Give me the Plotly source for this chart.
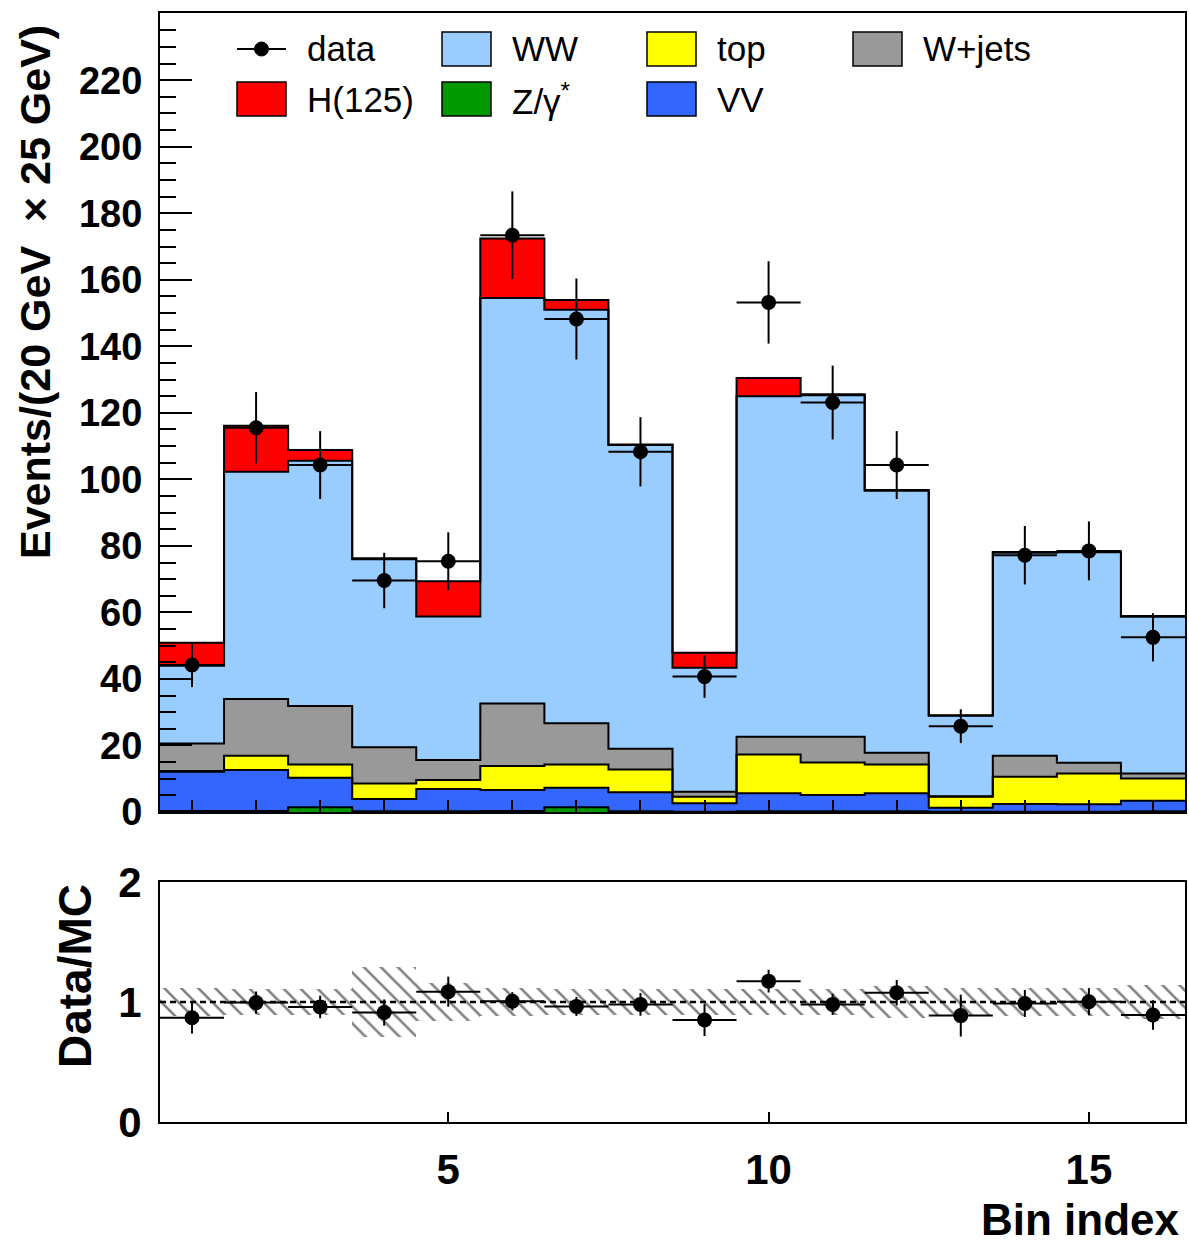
import numpy as np
import plotly.graph_objects as go

# ---------------- data ----------------
bins = list(range(1, 17))
zgamma = [0.3, 0.3, 1.4, 0.2, 0.2, 0.3, 1.4, 0.2, 0.1, 0.2, 0.2, 0.2, 0.1, 0.1, 0.1, 0.2]
vv = [11.8, 12.3, 8.9, 3.7, 6.7, 6.3, 5.9, 5.7, 2.5, 5.4, 4.9, 5.4, 1.2, 2.3, 2.2, 3.2]
top = [0.2, 4.3, 4.0, 4.7, 2.7, 7.2, 7.0, 6.9, 2.0, 11.7, 9.8, 8.7, 3.3, 8.2, 9.3, 6.7]
wjets = [8.3, 17.1, 17.6, 10.9, 6.0, 18.8, 12.4, 6.2, 1.5, 5.3, 7.7, 3.5, 0.1, 6.3, 3.2, 1.5]
ww = [23.4, 68.3, 73.7, 56.5, 43.2, 121.9, 124.3, 91.3, 37.3, 102.4, 102.7, 78.8, 24.2, 61.0, 63.3, 47.1]
higgs = [6.9, 13.8, 3.2, 0.3, 10.6, 17.9, 2.9, 0.2, 4.5, 5.5, 0.3, 0.2, 0.2, 0.3, 0.2, 0.2]
data = [44.2, 115.5, 104.3, 69.6, 75.4, 173.4, 148.2, 108.3, 40.7, 153.2, 123.1, 104.3, 25.8, 77.2, 78.5, 52.5]
mc_unc = [0.12, 0.11, 0.11, 0.29, 0.16, 0.12, 0.11, 0.11, 0.11, 0.11, 0.11, 0.13, 0.12, 0.12, 0.12, 0.14]

stack_names = ["Z/γ<sup>*</sup>", "VV", "top", "W+jets", "WW", "H(125)"]
stack_vals = [zgamma, vv, top, wjets, ww, higgs]
stack_colors = ["#009900", "#3366FF", "#FFFF00", "#999999", "#99CCFF", "#FF0000"]

y_ticks_main = list(range(0, 221, 20))
x_ticks_ratio = [5, 10, 15]
y_ticks_ratio = [0, 1, 2]

# ---------------- figure ----------------
W, H = 1189, 1243
ML, MR, MT, MB = 160, 4, 13, 121
plot_h = H - MT - MB
main_dom = [(H - MB - 812) / plot_h, 1.0]
ratio_dom = [0.0, (H - MB - 882) / plot_h]

fig = go.Figure()

x = np.array(bins, dtype=float)
edges = np.concatenate([x - 0.5, [x[-1] + 0.5]])

cum = np.zeros(len(bins))
cums = []
for name, vals, col in zip(stack_names, stack_vals, stack_colors):
    vals = np.array(vals)
    fig.add_trace(go.Bar(x=x, y=vals, base=cum.copy(), width=1.0, name=name,
                         marker=dict(color=col, line=dict(width=0)),
                         showlegend=False, xaxis="x", yaxis="y"))
    cum = cum + vals
    cums.append(cum.copy())

# step outlines of each stacked component
for c in cums:
    fig.add_trace(go.Scatter(x=edges, y=np.concatenate([c, [c[-1]]]), mode="lines",
                             line=dict(color="black", width=2, shape="hv"),
                             showlegend=False, hoverinfo="skip", xaxis="x", yaxis="y"))

total = cums[-1]
d = np.array(data)
fig.add_trace(go.Scatter(x=x, y=d, mode="markers", name="data",
                         marker=dict(color="black", size=15),
                         error_y=dict(type="data", array=np.sqrt(d), color="black", thickness=2, width=0),
                         error_x=dict(type="constant", value=0.5, color="black", thickness=2, width=0),
                         showlegend=False, xaxis="x", yaxis="y"))

# ratio panel: MC uncertainty band (hatched)
u = np.array(mc_unc)
fig.add_trace(go.Bar(x=x, y=2 * u, base=1 - u, width=1.0,
                     marker=dict(color="rgba(0,0,0,0)", line=dict(width=0),
                                 pattern=dict(shape="\\", fgcolor="black", bgcolor="rgba(0,0,0,0)",
                                              size=12, solidity=0.22, fillmode="overlay")),
                     showlegend=False, xaxis="x2", yaxis="y2"))

ratio = d / total
ratio_err = np.sqrt(d) / total
fig.add_trace(go.Scatter(x=x, y=ratio, mode="markers",
                         marker=dict(color="black", size=15),
                         error_y=dict(type="data", array=ratio_err, color="black", thickness=2, width=0),
                         error_x=dict(type="constant", value=0.5, color="black", thickness=2, width=0),
                         showlegend=False, xaxis="x2", yaxis="y2"))

fig.add_shape(type="line", xref="x2", yref="y2", x0=edges[0], x1=edges[-1], y0=1, y1=1,
              line=dict(color="black", width=2.5, dash="6px,4px"))

# ---------------- axes ----------------
FONT = "Liberation Sans"
axis_common = dict(showline=True, linecolor="black", linewidth=2, mirror=True,
                   showgrid=False, zeroline=False, automargin=False)
fig.update_layout(
    width=W, height=H,
    margin=dict(l=ML, r=MR, t=MT, b=MB),
    paper_bgcolor="white", plot_bgcolor="white",
    barmode="overlay", bargap=0,
    font=dict(family=FONT, color="black"),
    xaxis=dict(domain=[0, 1], anchor="y", range=[edges[0], edges[-1]], ticks="inside",
               tickmode="linear", tick0=1, dtick=1, ticklen=12, tickwidth=2, tickcolor="black",
               showticklabels=False, **axis_common),
    yaxis=dict(domain=main_dom, anchor="x", range=[0, 240.2], ticks="inside",
               tickvals=y_ticks_main, ticklen=32, tickwidth=2, tickcolor="black",
               minor=dict(ticks="inside", tick0=0, dtick=5, ticklen=16, tickwidth=2, tickcolor="black"),
               tickfont=dict(family=FONT, size=38, weight="bold"), ticklabelstandoff=8,
               **axis_common),
    xaxis2=dict(domain=[0, 1], anchor="y2", range=[edges[0], edges[-1]], ticks="inside",
                tickvals=x_ticks_ratio, ticklen=10, tickwidth=2, tickcolor="black",
                tickfont=dict(family=FONT, size=42, weight="bold"), ticklabelstandoff=10,
                **axis_common),
    yaxis2=dict(domain=ratio_dom, anchor="x2", range=[0, 2], tickvals=y_ticks_ratio, ticks="",
                tickfont=dict(family=FONT, size=42, weight="bold"), ticklabelstandoff=8,
                **axis_common),
)

def px_x(p):
    return (p - ML) / (W - ML - MR)

def px_y(p):
    return (H - MB - p) / plot_h

annotations = [
    dict(text="Events/(20 GeV  × 25 GeV)", x=px_x(35), y=px_y(292), textangle=-90,
         xanchor="center", yanchor="middle", font=dict(family=FONT, size=43, weight="bold")),
    dict(text="Data/MC", x=px_x(75), y=px_y(976), textangle=-90,
         xanchor="center", yanchor="middle", font=dict(family=FONT, size=46, weight="bold")),
    dict(text="Bin index", x=px_x(1182), y=px_y(1219), xanchor="right", yanchor="middle",
         font=dict(family=FONT, size=44, weight="bold")),
]

# ---------------- legend (drawn manually, grid of 4 columns) ----------------
legend_items = [("data", None), ("WW", "#99CCFF"), ("top", "#FFFF00"), ("W+jets", "#999999"),
                ("H(125)", "#FF0000"), ("Z/γ<sup>*</sup>", "#009900"), ("VV", "#3366FF")]
col_x = [237, 442, 647, 853]
row_y = [49, 99]
box_w, box_h = 49, 34
for i, (lab, col) in enumerate(legend_items):
    cx0 = col_x[i % 4]
    cy = row_y[i // 4]
    if col is None:
        fig.add_shape(type="line", xref="paper", yref="paper",
                      x0=px_x(cx0), x1=px_x(cx0 + box_w), y0=px_y(cy), y1=px_y(cy),
                      line=dict(color="black", width=2))
        fig.add_shape(type="circle", xref="paper", yref="paper",
                      x0=px_x(cx0 + box_w / 2 - 7), x1=px_x(cx0 + box_w / 2 + 7),
                      y0=px_y(cy + 7), y1=px_y(cy - 7),
                      fillcolor="black", line=dict(color="black", width=1))
    else:
        fig.add_shape(type="rect", xref="paper", yref="paper",
                      x0=px_x(cx0), x1=px_x(cx0 + box_w),
                      y0=px_y(cy + box_h / 2), y1=px_y(cy - box_h / 2),
                      fillcolor=col, line=dict(color="black", width=1.5))
    annotations.append(dict(text=lab, x=px_x(cx0 + box_w + 19), y=px_y(cy), xanchor="left",
                            yanchor="middle", font=dict(family=FONT, size=35)))

for a in annotations:
    a.setdefault("xref", "paper")
    a.setdefault("yref", "paper")
    a.setdefault("showarrow", False)
fig.update_layout(annotations=annotations)

fig.write_html("out.html")
